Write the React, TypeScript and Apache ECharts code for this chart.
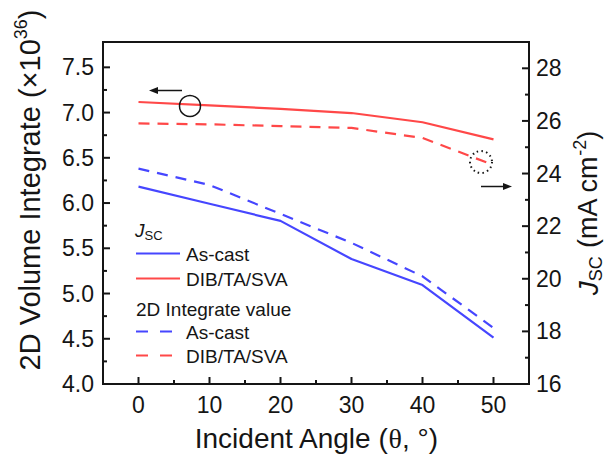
import React, { useEffect, useRef } from "react";
import * as echarts from "echarts";

const angles = [0, 10, 20, 30, 40, 50];
const jscAsCast = [23.5, 22.85, 22.2, 20.75, 19.76, 17.76];
const jscDIB = [26.72, 26.59, 26.46, 26.3, 25.95, 25.3];
const intAsCast = [6.38, 6.2, 5.88, 5.56, 5.19, 4.62];
const intDIB = [6.88, 6.87, 6.85, 6.83, 6.72, 6.42];

const xMajor = [0, 10, 20, 30, 40, 50];
const xMinor = [5, 15, 25, 35, 45];
const leftMajor = [4.5, 5, 5.5, 6, 6.5, 7, 7.5];
const leftMinor = [4.25, 4.75, 5.25, 5.75, 6.25, 6.75, 7.25];
const rightMajor = [18, 20, 22, 24, 26, 28];
const rightMinor = [17, 19, 21, 23, 25, 27];

const FONT = "'Liberation Sans', Arial, sans-serif";
const INK = "#151515";
const BLUE = "#4646ff";
const RED = "#ff4848";

const MAJOR_LEN = 7;
const MINOR_LEN = 4;

const pair = (ys: number[]) => angles.map((a, i) => [a, ys[i]]);

export default function App() {
  const ref = useRef<HTMLDivElement>(null);
  useEffect(() => {
    if (!ref.current) return;
    const chart = echarts.init(ref.current, null, { renderer: "svg" });

    const xTickData = [
      ...xMajor.map((v) => [v, 4, MAJOR_LEN]),
      ...xMinor.map((v) => [v, 4, MINOR_LEN]),
    ];
    const leftTickData = [
      ...leftMajor.map((v) => [0, v, MAJOR_LEN]),
      ...leftMinor.map((v) => [0, v, MINOR_LEN]),
    ];
    const rightTickData = [
      ...rightMajor.map((v) => [0, v, MAJOR_LEN]),
      ...rightMinor.map((v) => [0, v, MINOR_LEN]),
    ];

    const tickSeries = (data: number[][], yAxisIndex: number, side: "bottom" | "left" | "right") => ({
      type: "custom",
      xAxisIndex: 0,
      yAxisIndex,
      silent: true,
      clip: false,
      z: 5,
      data,
      renderItem: (params: any, api: any) => {
        const cs = params.coordSys;
        const len = api.value(2);
        const p = api.coord([api.value(0), api.value(1)]);
        let shape;
        if (side === "bottom") {
          const yb = cs.y + cs.height;
          shape = { x1: p[0], y1: yb, x2: p[0], y2: yb - len };
        } else if (side === "left") {
          shape = { x1: cs.x, y1: p[1], x2: cs.x + len, y2: p[1] };
        } else {
          const xr = cs.x + cs.width;
          shape = { x1: xr, y1: p[1], x2: xr - len, y2: p[1] };
        }
        return { type: "line", shape, style: { stroke: INK, lineWidth: 2 } };
      },
    });

    chart.setOption({
      animation: false,
      backgroundColor: "#ffffff",
      textStyle: { fontFamily: FONT },
      grid: {
        left: 103,
        right: 81,
        top: 42,
        bottom: 71,
        show: true,
        borderColor: INK,
        borderWidth: 2,
        containLabel: false,
        outerBoundsMode: "none",
      },
      xAxis: {
        type: "value",
        min: -5,
        max: 55,
        position: "bottom",
        splitLine: { show: false },
        axisLine: { show: true, onZero: false, lineStyle: { color: INK, width: 2 } },
        axisTick: { show: false },
        axisLabel: { customValues: xMajor, fontSize: 23, color: INK, margin: 9, fontFamily: FONT },
        name: "Incident Angle ({t|θ}, °)",
        nameLocation: "middle",
        nameGap: 40,
        nameTextStyle: {
          fontSize: 28,
          color: INK,
          fontFamily: FONT,
          rich: { t: { fontSize: 28, fontFamily: "'Liberation Serif', serif", color: INK } },
        },
      },
      yAxis: [
        {
          type: "value",
          min: 4,
          max: 7.78,
          interval: 0.5,
          position: "left",
          splitLine: { show: false },
          axisLine: { show: true, onZero: false, lineStyle: { color: INK, width: 2 } },
          axisTick: { show: false },
          axisLabel: {
            fontSize: 23,
            color: INK,
            margin: 9,
            fontFamily: FONT,
            showMaxLabel: false,
            formatter: (v: number) => v.toFixed(1),
          },
        },
        {
          type: "value",
          min: 16,
          max: 29,
          interval: 2,
          position: "right",
          splitLine: { show: false },
          axisLine: { show: true, onZero: false, lineStyle: { color: INK, width: 2 } },
          axisTick: { show: false },
          axisLabel: { fontSize: 23, color: INK, margin: 7, fontFamily: FONT, showMaxLabel: false },
        },
      ],
      series: [
        {
          name: "Jsc As-cast",
          type: "line",
          yAxisIndex: 1,
          data: pair(jscAsCast),
          symbol: "none",
          lineStyle: { color: BLUE, width: 2.2 },
        },
        {
          name: "Jsc DIB/TA/SVA",
          type: "line",
          yAxisIndex: 1,
          data: pair(jscDIB),
          symbol: "none",
          lineStyle: { color: RED, width: 2.2 },
        },
        {
          name: "2D As-cast",
          type: "line",
          yAxisIndex: 0,
          data: pair(intAsCast),
          symbol: "none",
          lineStyle: { color: BLUE, width: 2.2, type: [11, 8] },
        },
        {
          name: "2D DIB/TA/SVA",
          type: "line",
          yAxisIndex: 0,
          data: pair(intDIB),
          symbol: "none",
          lineStyle: { color: RED, width: 2.2, type: [11, 8] },
        },
        tickSeries(xTickData, 0, "bottom"),
        tickSeries(leftTickData, 0, "left"),
        tickSeries(rightTickData, 1, "right"),
      ],
      graphic: [
        {
          type: "rect",
          z: 100,
          shape: { x: 103, y: 42, width: 426, height: 342 },
          style: { fill: "none", stroke: INK, lineWidth: 2 },
        },
        {
          type: "text",
          x: 30,
          y: 190,
          rotation: Math.PI / 2,
          style: {
            text: "{m|2D Volume Integrate (×10}{sup|36}{m|)}",
            fontSize: 29,
            fontFamily: FONT,
            fill: INK,
            align: "center",
            verticalAlign: "middle",
            rich: {
              m: { fontSize: 29, lineHeight: 36, fill: INK, fontFamily: FONT },
              sup: { fontSize: 18, verticalAlign: "top", lineHeight: 16, fill: INK, fontFamily: FONT },
            },
          },
        },
        {
          type: "text",
          x: 588,
          y: 213,
          rotation: Math.PI / 2,
          style: {
            text: "{j|J}{sub|SC}{m| (mA cm}{sup|-2}{m|)}",
            fontSize: 27,
            fontFamily: FONT,
            fill: INK,
            align: "center",
            verticalAlign: "middle",
            rich: {
              j: { fontSize: 28, lineHeight: 34, fontStyle: "italic", fill: INK, fontFamily: FONT },
              m: { fontSize: 27, lineHeight: 34, fill: INK, fontFamily: FONT },
              sub: { fontSize: 18, verticalAlign: "bottom", lineHeight: 14, fill: INK, fontFamily: FONT },
              sup: { fontSize: 18, verticalAlign: "top", lineHeight: 14, fill: INK, fontFamily: FONT },
            },
          },
        },
        {
          type: "text",
          z: 100,
          x: 135,
          y: 230,
          style: {
            text: "{j|J}{s|SC}",
            fill: INK,
            verticalAlign: "middle",
            rich: {
              j: { fontSize: 19, lineHeight: 24, fontStyle: "italic", fill: INK, fontFamily: FONT },
              s: { fontSize: 13, verticalAlign: "bottom", lineHeight: 9, fill: INK, fontFamily: FONT },
            },
          },
        },
        { type: "line", z: 100, shape: { x1: 136, y1: 253.5, x2: 180, y2: 253.5 }, style: { stroke: BLUE, lineWidth: 2.2 } },
        {
          type: "text",
          z: 100,
          x: 186,
          y: 254,
          style: { text: "As-cast", fontSize: 19, fontFamily: FONT, fill: INK, verticalAlign: "middle" },
        },
        { type: "line", z: 100, shape: { x1: 136, y1: 278.5, x2: 180, y2: 278.5 }, style: { stroke: RED, lineWidth: 2.2 } },
        {
          type: "text",
          z: 100,
          x: 186,
          y: 279,
          style: { text: "DIB/TA/SVA", fontSize: 19, fontFamily: FONT, fill: INK, verticalAlign: "middle" },
        },
        {
          type: "text",
          z: 100,
          x: 136,
          y: 309,
          style: { text: "2D Integrate value", fontSize: 19, fontFamily: FONT, fill: INK, verticalAlign: "middle" },
        },
        {
          type: "line",
          z: 100,
          shape: { x1: 136, y1: 331.5, x2: 172, y2: 331.5 },
          style: { stroke: BLUE, lineWidth: 2.2, lineDash: [12, 12] },
        },
        {
          type: "text",
          z: 100,
          x: 186,
          y: 332,
          style: { text: "As-cast", fontSize: 19, fontFamily: FONT, fill: INK, verticalAlign: "middle" },
        },
        {
          type: "line",
          z: 100,
          shape: { x1: 136, y1: 355.5, x2: 172, y2: 355.5 },
          style: { stroke: RED, lineWidth: 2.2, lineDash: [12, 12] },
        },
        {
          type: "text",
          z: 100,
          x: 186,
          y: 356,
          style: { text: "DIB/TA/SVA", fontSize: 19, fontFamily: FONT, fill: INK, verticalAlign: "middle" },
        },
        { type: "line", z: 100, shape: { x1: 182, y1: 90.5, x2: 156, y2: 90.5 }, style: { stroke: INK, lineWidth: 1.5 } },
        {
          type: "polygon",
          z: 100,
          shape: { points: [[149, 90.5], [158, 87], [158, 94]] },
          style: { fill: INK },
        },
        {
          type: "circle",
          z: 100,
          shape: { cx: 190, cy: 106, r: 10.5 },
          style: { fill: "none", stroke: INK, lineWidth: 1.5 },
        },
        {
          type: "circle",
          z: 100,
          shape: { cx: 481, cy: 162, r: 11 },
          style: { fill: "none", stroke: INK, lineWidth: 2, lineDash: [1.5, 3.2] },
        },
        { type: "line", z: 100, shape: { x1: 481, y1: 186.5, x2: 505, y2: 186.5 }, style: { stroke: INK, lineWidth: 1.5 } },
        {
          type: "polygon",
          z: 100,
          shape: { points: [[512, 186.5], [503, 183], [503, 190]] },
          style: { fill: INK },
        },
      ],
    });
    return () => chart.dispose();
  }, []);
  return (
    <div
      ref={ref}
      style={{ position: "fixed", left: 0, top: 0, width: 610, height: 455, background: "#fff" }}
    />
  );
}
